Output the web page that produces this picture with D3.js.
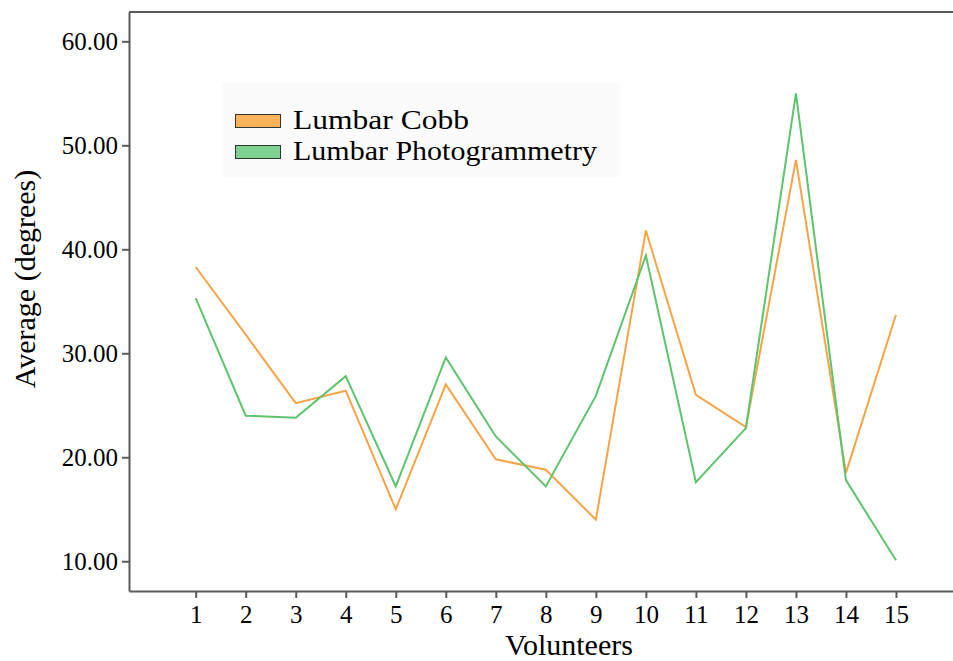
<!DOCTYPE html>
<html>
<head>
<meta charset="utf-8">
<script src="https://cdn.jsdelivr.net/npm/d3@7"></script>
<style>
  body { margin: 0; background: #fff; }
  svg { display: block; font-family: "Liberation Serif", "Times New Roman", serif; }
</style>
</head>
<body>
<svg id="chart"></svg>
<script>
// Données
const volunteers = [1, 2, 3, 4, 5, 6, 7, 8, 9, 10, 11, 12, 13, 14, 15];
const lumbarCobb = [38.3, 31.8, 25.2, 26.4, 15.0, 27.0, 19.8, 18.8, 14.0, 41.8, 26.0, 22.9, 48.6, 18.5, 33.7];
const lumbarPhoto = [35.3, 24.0, 23.8, 27.8, 17.2, 29.6, 22.0, 17.2, 25.9, 39.4, 17.6, 22.8, 55.0, 17.8, 10.1];
const yTicks = [10, 20, 30, 40, 50, 60];
const seriesNames = ["Lumbar Cobb", "Lumbar Photogrammetry"];

const width = 953, height = 661;
const svg = d3.select("#chart").attr("width", width).attr("height", height);

// Zone du tracé
const plotLeft = 129, plotTop = 12, plotBottom = 591, plotRight = 953;

const x = d3.scaleLinear().domain([-1 / 3, 16.14]).range([plotLeft, plotRight]);
const y = d3.scaleLinear().domain([7.14, 62.82]).range([plotBottom, plotTop]);

const axisColor = "#5a5a5a";

// Bord supérieur du cadre
svg.append("line").attr("x1", plotLeft).attr("x2", plotRight + 5).attr("y1", plotTop).attr("y2", plotTop)
    .attr("stroke", axisColor).attr("stroke-width", 2);

// Axe X
const xAxis = svg.append("g")
    .attr("transform", `translate(0,${plotBottom})`)
    .call(d3.axisBottom(x).tickValues(volunteers).tickSize(7).tickPadding(7).tickSizeOuter(0));
xAxis.select(".domain").attr("stroke", axisColor).attr("stroke-width", 2);
xAxis.selectAll(".tick line").attr("stroke", axisColor).attr("stroke-width", 2);
xAxis.selectAll("text").attr("font-size", 25).attr("fill", "#000")
    .style("font-family", "Liberation Serif");

// Axe Y
const yAxis = svg.append("g")
    .attr("transform", `translate(${plotLeft},0)`)
    .call(d3.axisLeft(y).tickValues(yTicks).tickFormat(d3.format(".2f")).tickSize(7).tickPadding(4).tickSizeOuter(0));
yAxis.select(".domain").attr("stroke", axisColor).attr("stroke-width", 2);
yAxis.selectAll(".tick line").attr("stroke", axisColor).attr("stroke-width", 2);
yAxis.selectAll("text").attr("font-size", 25).attr("fill", "#000")
    .style("font-family", "Liberation Serif");

// Titres des axes
svg.append("text")
    .attr("x", 569).attr("y", 655)
    .attr("text-anchor", "middle")
    .attr("font-size", 30)
    .text("Volunteers");

svg.append("text")
    .attr("transform", "translate(35,279) rotate(-90)")
    .attr("text-anchor", "middle")
    .attr("font-size", 30)
    .text("Average (degrees)");

// Courbes
const line = d3.line().x((d, i) => x(volunteers[i])).y(d => y(d));

svg.append("path").datum(lumbarCobb)
    .attr("d", line)
    .attr("fill", "none")
    .attr("stroke", "#f7a447")
    .attr("stroke-width", 2);

svg.append("path").datum(lumbarPhoto)
    .attr("d", line)
    .attr("fill", "none")
    .attr("stroke", "#5cc46c")
    .attr("stroke-width", 2);

// Légende
const legend = svg.append("g");
legend.append("rect")
    .attr("x", 222).attr("y", 83).attr("width", 398).attr("height", 94)
    .attr("fill", "#fbfbfb");

const swatchColors = ["#fdb35a", "#7ed291"];
seriesNames.forEach((name, i) => {
    legend.append("rect")
        .attr("x", 235.5).attr("y", 114.5 + i * 31)
        .attr("width", 45).attr("height", 13)
        .attr("fill", swatchColors[i])
        .attr("stroke", "#333")
        .attr("stroke-width", 1);
    legend.append("text")
        .attr("x", 293).attr("y", 129 + i * 31)
        .attr("font-size", 28)
        .attr("textLength", i === 0 ? 176 : 304)
        .attr("lengthAdjust", "spacingAndGlyphs")
        .text(name);
});
</script>
</body>
</html>
